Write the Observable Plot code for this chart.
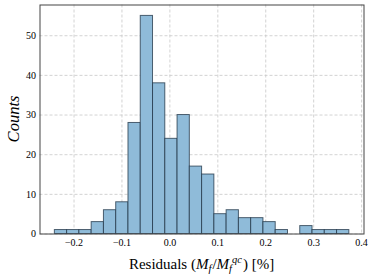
<!DOCTYPE html>
<html>
<head>
<meta charset="utf-8">
<script src="https://cdn.jsdelivr.net/npm/d3@7"></script>
<script src="https://cdn.jsdelivr.net/npm/@observablehq/plot@0.6"></script>
<style>
  html, body { margin: 0; padding: 0; background: #fff; }
  #chart { width: 374px; height: 278px; }
</style>
</head>
<body>
<div id="chart"></div>
<script>
const binEdges = [-0.240, -0.2144, -0.1888, -0.1632, -0.1376, -0.112, -0.0864, -0.0608, -0.0352, -0.0096,
  0.016, 0.0416, 0.0672, 0.0928, 0.1184, 0.144, 0.1696, 0.1952, 0.2208, 0.2464, 0.272, 0.2976, 0.3232, 0.3488, 0.3744];
const counts = [1, 1, 1, 3, 6, 8, 28, 55, 38, 24, 30, 17, 15, 5, 6, 4, 4, 3, 1, 0, 2, 1, 1, 1];
const xTicks = [-0.2, -0.1, 0.0, 0.1, 0.2, 0.3, 0.4];
const yTicks = [0, 10, 20, 30, 40, 50];

const bins = counts.map((c, i) => ({x1: binEdges[i], x2: binEdges[i + 1], count: c}));

const W = 374, H = 278;
const mL = 39.5, mR = 10.5, mT = 4.5, mB = 44.5;
const serif = "'Liberation Serif', 'DejaVu Serif', serif";

const plot = Plot.plot({
  width: W,
  height: H,
  marginLeft: mL,
  marginRight: mR,
  marginTop: mT,
  marginBottom: mB,
  style: {fontFamily: serif, fontSize: "10px", color: "#000", background: "#fff"},
  x: {domain: [-0.271, 0.405], label: null},
  y: {domain: [0, 57.75], label: null},
  marks: [
    Plot.gridX(xTicks, {stroke: "#c8c8c8", strokeOpacity: 1, strokeDasharray: "3,2", strokeWidth: 0.8}),
    Plot.gridY(yTicks, {stroke: "#c8c8c8", strokeOpacity: 1, strokeDasharray: "3,2", strokeWidth: 0.8}),
    Plot.rectY(bins.filter(d => d.count > 0), {x1: "x1", x2: "x2", y: "count", fill: "#8fbbd9", stroke: "#1f3344", strokeOpacity: 0.75, strokeWidth: 1}),
    Plot.frame({stroke: "#444", strokeWidth: 1}),
    Plot.axisX(xTicks, {tickFormat: d3.format(".1f"), tickSize: 0, tickPadding: 5, label: null, fontFamily: serif, fontSize: 10, fill: "#000"}),
    Plot.axisY(yTicks, {tickSize: 0, tickPadding: 4, label: null, fontFamily: serif, fontSize: 10, fill: "#000"})
  ]
});

document.getElementById("chart").appendChild(plot);

const svg = d3.select(plot);
// y-axis label
svg.append("text")
  .attr("transform", `translate(19, ${mT + (H - mT - mB) / 2}) rotate(-90)`)
  .attr("text-anchor", "middle")
  .attr("font-family", serif)
  .attr("font-style", "italic")
  .attr("font-size", 16.5)
  .attr("fill", "#000")
  .text("Counts");

// x-axis label with math
const xl = svg.append("text")
  .attr("x", mL + (W - mL - mR) / 2)
  .attr("y", 269)
  .attr("text-anchor", "middle")
  .attr("font-family", serif)
  .attr("font-size", 15)
  .attr("fill", "#000");
xl.append("tspan").text("Residuals (");
xl.append("tspan").attr("font-style", "italic").text("M");
xl.append("tspan").attr("font-style", "italic").attr("font-size", 10.5).attr("dy", 3).text("f");
xl.append("tspan").attr("dy", -3).attr("dx", 1).text("/");
xl.append("tspan").attr("font-style", "italic").text("M");
xl.append("tspan").attr("font-style", "italic").attr("font-size", 10.5).attr("dy", 3).text("f");
xl.append("tspan").attr("font-style", "italic").attr("font-size", 10.5).attr("dy", -9).text("qc");
xl.append("tspan").attr("dy", 6).attr("dx", 1).text(") [%]");
</script>
</body>
</html>
